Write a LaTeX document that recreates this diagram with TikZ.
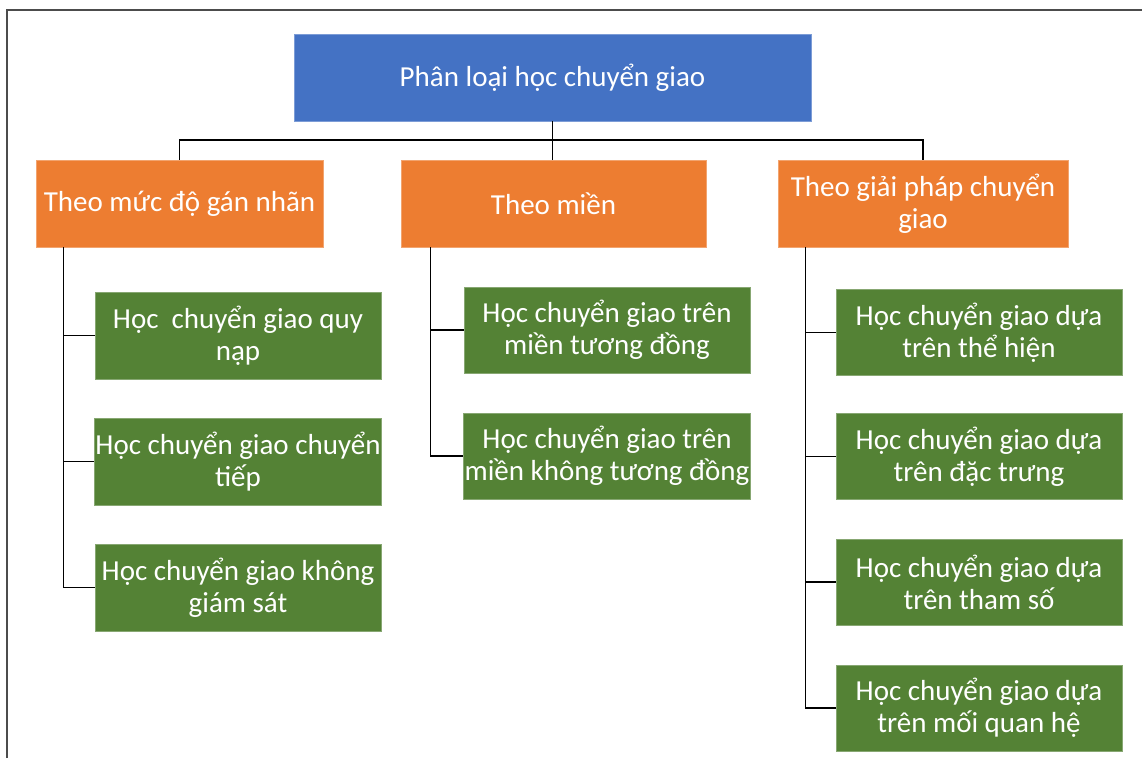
\documentclass[tikz,border=0pt]{standalone}
\usepackage{fontspec}
\setmainfont{Carlito}
\begin{document}
\begin{tikzpicture}[x=1pt,y=-1pt,
  box/.style={rectangle, inner sep=1pt, text=white, align=center,
    font=\fontsize{29}{32}\selectfont, line width=0.8pt},
  rootbox/.style={box, fill=rootblue, draw=rootblue!70!white, minimum width=517pt, minimum height=87pt},
  groupbox/.style={box, fill=grouporange, draw=grouporange!70!white, minimum height=87pt},
  leafbox/.style={box, fill=leafgreen, draw=leafgreen!70!white, minimum width=286pt, minimum height=86pt},
  link/.style={draw=black, line width=1.3pt}
]
\definecolor{rootblue}{HTML}{4472C4}
\definecolor{grouporange}{HTML}{ED7D31}
\definecolor{leafgreen}{HTML}{548235}
\useasboundingbox (0,0) rectangle (1142,758);
% outer frame
\draw[draw=black!70, line width=1.5pt] (7,758) -- (7,10) -- (1142,10);

% root
\node[rootbox] (root) at (552.5,77.5) {Phân loại học chuyển giao};

% groups
\node[groupbox, minimum width=287pt] (A) at (179.5,203.5) {Theo mức độ gán nhãn};
\node[groupbox, minimum width=305pt] (B) at (553.5,203.5) {Theo miền};
\node[groupbox, minimum width=290pt] (C) at (923,203.5) {Theo giải pháp chuyển\\giao};

% leaves of the first group
\node[leafbox, minimum height=87pt] (L1) at (238,335.5) {Học\ \ chuyển giao quy\\nạp};
\node[leafbox, minimum height=87pt] (L2) at (238,461.5) {Học chuyển giao chuyển\\tiếp};
\node[leafbox, minimum height=87pt] (L3) at (238,587.5) {Học chuyển giao không\\giám sát};

% leaves of the second group
\node[leafbox] (M1) at (607,330) {Học chuyển giao trên\\miền tương đồng};
\node[leafbox] (M2) at (607,456) {Học chuyển giao trên\\miền không tương đồng};

% leaves of the third group
\node[leafbox] (R1) at (979,332.5) {Học chuyển giao dựa\\trên thể hiện};
\node[leafbox] (R2) at (979,456.5) {Học chuyển giao dựa\\trên đặc trưng};
\node[leafbox] (R3) at (979,582) {Học chuyển giao dựa\\trên tham số};
\node[leafbox] (R4) at (979,708) {Học chuyển giao dựa\\trên mối quan hệ};

% root to groups
\coordinate (bus) at (552.5,140);
\draw[link] (root.south) -- (bus);
\draw[link] (A.north) |- (bus) -| (C.north);
\draw[link] (bus) -- (bus |- B.north);

% group trunks and branches
\draw[link] ([xshift=28pt]A.south west) |- (L3.west);
\draw[link] ([xshift=28pt]A.south west |- L1.west) -- (L1.west);
\draw[link] ([xshift=28pt]A.south west |- L2.west) -- (L2.west);

\draw[link] ([xshift=30pt]B.south west) |- (M2.west);
\draw[link] ([xshift=30pt]B.south west |- M1.west) -- (M1.west);

\draw[link] ([xshift=28pt]C.south west) |- (R4.west);
\draw[link] ([xshift=28pt]C.south west |- R1.west) -- (R1.west);
\draw[link] ([xshift=28pt]C.south west |- R2.west) -- (R2.west);
\draw[link] ([xshift=28pt]C.south west |- R3.west) -- (R3.west);
\end{tikzpicture}
\end{document}
